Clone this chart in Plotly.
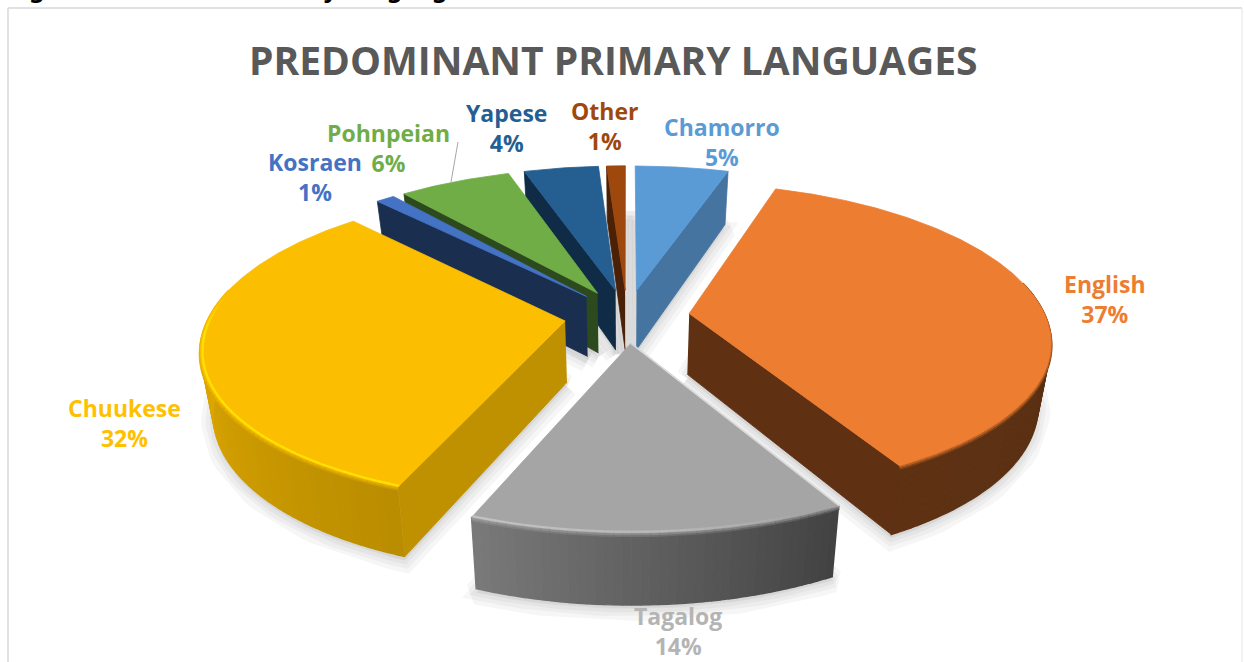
import math
import numpy as np
import plotly.graph_objects as go

# Share of students by primary language, clockwise from twelve o'clock
categories = ["Chamorro", "English", "Tagalog", "Chuukese", "Kosraen", "Pohnpeian", "Yapese", "Other"]
shares = [5, 37, 14, 32, 1, 6, 4, 1]

top_colors = ["#5B9BD5", "#ED7D31", "#A5A5A5", "#FBBE00", "#4472C4", "#70AD47", "#255E91", "#9E480E"]
cut_colors = ["#44749F", "#5F3012", "#7A7A7A", "#BF9000", "#1A2E50", "#2C4A1E", "#0F2B45", "#4A2006"]
label_colors = ["#5B9BD5", "#ED7D31", "#B4B4B4", "#FFC000", "#4472C4", "#70AD47", "#255E91", "#9E480E"]

# Centre of each two-line label on the canvas
label_x = [722, 1105, 678, 124, 315, 388, 506, 604]
label_y = [142, 299, 631, 423, 177, 148, 128, 126]

WIDTH, HEIGHT = 1244, 662
CENTER_X, CENTER_Y = 627, 316
RADIUS_X, RADIUS_Y = 356, 151
PERSPECTIVE_X, PERSPECTIVE_Y = 0.165, 0.155
EXPLODE = 0.176
THICKNESS = 61
BOTTOM_SHRINK = 0.97
LABEL_FONT = "Open Sans"


def project(x, depth, bottom=False):
    """Perspective view of a disc point; depth grows away from the viewer."""
    x, depth = np.asarray(x, float), np.asarray(depth, float)
    px = RADIUS_X * x / (1 + PERSPECTIVE_X * depth)
    py = RADIUS_Y * depth / (1 + PERSPECTIVE_Y * depth)
    if bottom:
        px = px * BOTTOM_SHRINK
        py = py - THICKNESS / (1 + 0.13 * depth)
    return CENTER_X + px, CENTER_Y - py


def to_rgb(hex_color):
    return [int(hex_color[i:i + 2], 16) for i in (1, 3, 5)]


def shaded(hex_color, factor):
    return "rgb({},{},{})".format(*[min(255, int(c * factor)) for c in to_rgb(hex_color)])


def blended(hex_color, factor, amount):
    # Halfway tones between the lit upper face and the shaded wall
    rgb = to_rgb(hex_color)
    return "rgb({},{},{})".format(*[min(255, int(c * factor + (c - c * factor) * amount)) for c in rgb])


def rim_factor(angle):
    return float(np.interp(angle, [90, 151, 201.6, 270], [0.38, 0.40, 0.74, 0.90]))


def polygon(xs, ys, color, width=0.8):
    return go.Scatter(
        x=list(xs), y=list(ys), mode="lines", fill="toself", fillcolor=color,
        line=dict(color=color, width=width), hoverinfo="skip", showlegend=False,
    )


def stroke(xs, ys, color, width):
    return go.Scatter(x=list(xs), y=list(ys), mode="lines", line=dict(color=color, width=width),
                      hoverinfo="skip", showlegend=False)


fig = go.Figure()

total = sum(shares)
edges = np.cumsum([0] + shares) / total * 360.0
slices = []
for i, name in enumerate(categories):
    start, end = edges[i], edges[i + 1]
    mid = math.radians((start + end) / 2)
    slices.append(dict(i=i, name=name, start=start, end=end,
                       ox=EXPLODE * math.sin(mid), oy=EXPLODE * math.cos(mid)))

# Soft ground shadow under every slice, drawn before any slice body
for s in slices:
    ang = np.radians(np.linspace(s["start"], s["end"], 60))
    sx = np.r_[s["ox"], s["ox"] + np.sin(ang), s["ox"]]
    sy = np.r_[s["oy"], s["oy"] + np.cos(ang), s["oy"]]
    bx, by = project(sx, sy, bottom=True)
    for width in (24, 15, 7):
        fig.add_trace(go.Scatter(
            x=bx, y=by + 4, mode="lines", fill="toself", fillcolor="rgba(0,0,0,0.02)",
            line=dict(color="rgba(0,0,0,0.035)", width=width),
            hoverinfo="skip", showlegend=False,
        ))

# Slices painted from the far side of the disc to the near side
for s in sorted(slices, key=lambda item: -(item["oy"])):
    i, start, end, ox, oy = s["i"], s["start"], s["end"], s["ox"], s["oy"]
    top, cut = top_colors[i], cut_colors[i]

    # Cut faces that turn toward the viewer
    for angle, visible in ((start, math.sin(math.radians(start)) < -1e-6),
                           (end, math.sin(math.radians(end)) > 1e-6)):
        if visible:
            rad = math.radians(angle)
            fx = [ox, ox + math.sin(rad)]
            fy = [oy, oy + math.cos(rad)]
            tx, ty = project(fx, fy)
            bx, by = project(fx, fy, bottom=True)
            fig.add_trace(polygon([tx[0], tx[1], bx[1], bx[0]], [ty[0], ty[1], by[1], by[0]], cut))

    # Curved outer wall split into thin strips so its shade changes smoothly along the arc
    steps = max(2, int((end - start) / 1.2))
    grid = np.linspace(start, end, steps + 1)
    wall = [(a0, a1) for a0, a1 in zip(grid[:-1], grid[1:])
            if math.cos(math.radians((a0 + a1) / 2)) <= 0.2]
    for a0, a1 in wall:
        ang = np.radians(np.linspace(a0, a1, 3))
        wx, wy = ox + np.sin(ang), oy + np.cos(ang)
        tx, ty = project(wx, wy)
        bx, by = project(wx, wy, bottom=True)
        fig.add_trace(polygon(np.r_[tx, bx[::-1]], np.r_[ty, by[::-1]],
                              shaded(top, rim_factor((a0 + a1) / 2)), width=1.4))

    # Rounded shoulder between the wall and the upper face
    for a0, a1 in wall:
        ang = np.radians(np.linspace(a0, a1, 3))
        hx, hy = project(ox + np.sin(ang), oy + np.cos(ang))
        mid_factor = rim_factor((a0 + a1) / 2)
        fig.add_trace(stroke(hx, hy + 2.5, blended(top, mid_factor, 0.25), 3))
        fig.add_trace(stroke(hx, hy + 1, blended(top, mid_factor, 0.6), 2.5))

    # Upper face
    ang = np.radians(np.linspace(start, end, max(12, int(end - start) * 2)))
    fx = np.r_[ox, ox + np.sin(ang), ox]
    fy = np.r_[oy, oy + np.cos(ang), oy]
    tx, ty = project(fx, fy)
    fig.add_trace(polygon(tx, ty, top))

    # Bright lip on the slice edge that overlaps its neighbour
    if s["name"] == "Tagalog":
        rad = math.radians(start)
        ex, ey = project([ox, ox + math.sin(rad)], [oy, oy + math.cos(rad)])
        fig.add_trace(stroke(ex, ey, "#DADADA", 1.6))

    # Bevel highlight along the front rim of the upper face
    for a0, a1 in wall:
        mid_angle = (a0 + a1) / 2
        lift = float(np.interp(mid_angle, [155, 175, 205, 265, 280], [0, 0.12, 0.19, 0.2, 0]))
        if lift <= 0:
            continue
        ang = np.radians(np.linspace(a0, a1, 3))
        hx, hy = project(ox + 0.994 * np.sin(ang), oy + 0.994 * np.cos(ang))
        fig.add_trace(stroke(hx, hy, shaded(top, 1 + lift), 2.2))

layout_annotations = [
    dict(text="<b>PREDOMINANT PRIMARY LANGUAGES</b>", x=613, y=59, xanchor="center", yanchor="middle",
         showarrow=False, font=dict(family=LABEL_FONT, size=39, color="#595959")),
    dict(text="<b>Figure 6: Student Counts by Language</b>", x=8, y=5, xanchor="left", yanchor="bottom",
         showarrow=False, font=dict(family="Noto Sans", size=24, color="#000000"), borderpad=0),
]
for name, share, color, lx, ly in zip(categories, shares, label_colors, label_x, label_y):
    layout_annotations.append(dict(
        text=f"<b>{name}<br>{share}%</b>", x=lx, y=ly, xanchor="center", yanchor="middle",
        showarrow=False, font=dict(family=LABEL_FONT, size=23, color=color),
    ))

fig.update_layout(
    width=WIDTH, height=HEIGHT, margin=dict(l=0, r=0, t=0, b=0),
    paper_bgcolor="white", plot_bgcolor="white", showlegend=False,
    xaxis=dict(range=[0, WIDTH], visible=False, fixedrange=True),
    yaxis=dict(range=[HEIGHT, 0], visible=False, fixedrange=True),
    annotations=layout_annotations,
    shapes=[
        dict(type="line", x0=8, x1=8, y0=8, y1=HEIGHT, line=dict(color="#D9D9D9", width=1.5), layer="below"),
        dict(type="line", x0=8, x1=1242, y0=8, y1=8, line=dict(color="#D9D9D9", width=1.5), layer="below"),
        dict(type="line", x0=1242, x1=1242, y0=8, y1=HEIGHT, line=dict(color="#E6E6E6", width=1), layer="below"),
        dict(type="line", x0=458, x1=451, y0=142, y1=182, line=dict(color="#A6A6A6", width=1), layer="above"),
    ],
)

fig.write_html("out.html")
